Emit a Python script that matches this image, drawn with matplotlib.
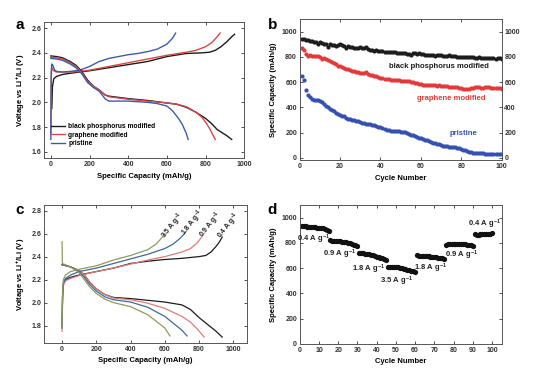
"""Four-panel battery performance figure (a-d)."""
import numpy as np
import matplotlib
matplotlib.use("Agg")
import matplotlib.pyplot as plt

plt.rcParams["font.family"] = ["Liberation Sans", "DejaVu Sans"]
plt.rcParams["mathtext.fontset"] = "custom"
plt.rcParams["mathtext.rm"] = "Liberation Sans:bold"
plt.rcParams["mathtext.default"] = "rm"

# colours
C_BP    = "#1c1c1c"
C_GR    = "#d94848"
C_PR    = "#3b5ea6"
C_09    = "#e07a7a"
C_18    = "#3e6a9a"
C_35    = "#8c9c5c"

# ── panel a: charge/discharge profiles ───────────────────────────────────────
a_bp_chg_x = [5, 8, 15, 30, 60, 100, 150, 200, 300, 400, 500, 600, 700, 780, 820, 850, 880, 910, 935, 950]
a_bp_chg_y = [1.95, 2.12, 2.19, 2.21, 2.225, 2.235, 2.245, 2.255, 2.28, 2.305, 2.33, 2.37, 2.395, 2.40, 2.405, 2.42, 2.45, 2.49, 2.53, 2.55]
a_gr_chg_x = [0, 2, 5, 15, 30, 60, 100, 150, 200, 300, 400, 500, 600, 700, 750, 800, 830, 860, 875]
a_gr_chg_y = [1.75, 2.20, 2.28, 2.255, 2.245, 2.245, 2.245, 2.25, 2.26, 2.29, 2.32, 2.35, 2.38, 2.405, 2.42, 2.45, 2.48, 2.53, 2.56]
a_pr_chg_x = [0, 2, 5, 10, 20, 30, 60, 100, 150, 200, 250, 300, 350, 400, 450, 500, 550, 600, 630, 645]
a_pr_chg_y = [1.70, 2.25, 2.31, 2.30, 2.26, 2.25, 2.245, 2.25, 2.26, 2.29, 2.33, 2.355, 2.37, 2.385, 2.395, 2.41, 2.43, 2.47, 2.52, 2.56]

a_bp_dis_x = [0, 30, 60, 100, 130, 160, 190, 220, 250, 280, 300, 350, 400, 500, 600, 650, 700, 750, 800, 830, 860, 890, 910, 935]
a_bp_dis_y = [2.375, 2.37, 2.36, 2.33, 2.30, 2.25, 2.18, 2.13, 2.10, 2.06, 2.05, 2.04, 2.03, 2.015, 1.995, 1.985, 1.96, 1.92, 1.87, 1.83, 1.78, 1.75, 1.73, 1.70]
a_gr_dis_x = [0, 30, 60, 100, 130, 160, 190, 220, 250, 280, 300, 350, 400, 500, 600, 650, 700, 750, 780, 800, 820, 840, 850]
a_gr_dis_y = [2.365, 2.36, 2.35, 2.32, 2.29, 2.24, 2.17, 2.13, 2.10, 2.06, 2.045, 2.035, 2.025, 2.01, 1.995, 1.985, 1.965, 1.92, 1.88, 1.84, 1.79, 1.73, 1.70]
a_pr_dis_x = [0, 30, 60, 100, 130, 160, 190, 220, 250, 280, 300, 350, 400, 500, 550, 600, 630, 660, 680, 700, 710]
a_pr_dis_y = [2.355, 2.35, 2.34, 2.31, 2.28, 2.23, 2.16, 2.12, 2.09, 2.03, 2.01, 2.01, 2.01, 2.00, 1.99, 1.97, 1.93, 1.87, 1.82, 1.75, 1.70]

# ── panel b: cycling at constant rate ────────────────────────────────────────
b_cycles = list(range(1, 101))
b_bp = [945, 940, 935, 932, 928, 925, 920, 915, 905, 918,
        912, 905, 900, 880, 900, 895, 890, 885, 895, 900,
        890, 885, 870, 885, 880, 875, 872, 868, 870, 875,
        870, 868, 875, 860, 858, 855, 845, 852, 850, 848,
        845, 842, 840, 842, 838, 835, 835, 832, 830, 832,
        830, 828, 826, 825, 815, 830, 828, 826, 830, 822,
        820, 818, 816, 818, 815, 812, 810, 815, 812, 812,
        810, 808, 806, 812, 804, 805, 806, 800, 798, 802,
        800, 798, 796, 795, 796, 798, 794, 792, 795, 790,
        792, 790, 790, 792, 788, 790, 786, 788, 787, 786]
b_gr = [870, 855, 820, 810, 812, 810, 808, 806, 805, 800,
        780, 790, 785, 775, 770, 760, 750, 740, 730, 725,
        720, 715, 705, 700, 695, 690, 685, 680, 678, 676,
        675, 676, 680, 665, 660, 655, 650, 645, 640, 635,
        632, 628, 625, 622, 620, 618, 620, 618, 615, 612,
        612, 610, 608, 605, 602, 598, 595, 590, 585, 582,
        580, 578, 578, 580, 578, 576, 575, 572, 575, 572,
        570, 568, 568, 565, 565, 562, 560, 558, 555, 552,
        548, 545, 545, 548, 552, 555, 558, 560, 558, 556,
        555, 558, 560, 558, 555, 555, 552, 550, 550, 548]
b_pr = [650, 620, 540, 500, 480, 470, 462, 458, 460, 450,
        440, 425, 410, 400, 390, 380, 370, 355, 345, 340,
        335, 330, 320, 310, 305, 300, 298, 295, 290, 285,
        280, 275, 270, 268, 265, 262, 258, 252, 248, 245,
        240, 232, 225, 218, 212, 210, 210, 212, 210, 208,
        205, 202, 198, 190, 182, 178, 172, 165, 160, 155,
        150, 145, 140, 135, 128, 122, 118, 112, 108, 102,
        98, 95, 92, 90, 88, 86, 84, 80, 76, 72,
        66, 60, 55, 50, 46, 42, 40, 38, 37, 36,
        36, 35, 35, 34, 34, 34, 33, 33, 34, 35]

# ── panel c: profiles at different rates ────────────────────────────────────
c_rates = ["0.4", "0.9", "1.8", "3.5"]
c_chg_x = {
    "0.4": [0, 3, 8, 20, 50, 100, 200, 300, 400, 500, 600, 700, 800, 840, 870, 900, 920, 935],
    "0.9": [0, 3, 8, 20, 50, 100, 200, 300, 400, 500, 600, 700, 750, 790, 820],
    "1.8": [0, 3, 8, 20, 50, 100, 200, 300, 400, 500, 600, 650, 690, 715],
    "3.5": [0, 3, 8, 20, 50, 100, 200, 300, 400, 500, 550, 580, 600],
}
c_chg_y = {
    "0.4": [1.80, 2.05, 2.17, 2.20, 2.22, 2.24, 2.27, 2.30, 2.34, 2.36, 2.375, 2.385, 2.40, 2.41, 2.44, 2.49, 2.53, 2.57],
    "0.9": [1.75, 2.00, 2.15, 2.19, 2.21, 2.235, 2.27, 2.30, 2.335, 2.37, 2.40, 2.44, 2.47, 2.52, 2.58],
    "1.8": [1.78, 2.05, 2.17, 2.21, 2.24, 2.27, 2.30, 2.34, 2.38, 2.42, 2.47, 2.51, 2.56, 2.60],
    "3.5": [1.78, 2.10, 2.20, 2.24, 2.27, 2.29, 2.32, 2.37, 2.41, 2.46, 2.51, 2.56, 2.60],
}
c_dis_x = {
    "0.4": [0, 50, 100, 130, 160, 200, 250, 300, 400, 500, 600, 700, 750, 800, 850, 900, 935],
    "0.9": [0, 50, 100, 130, 160, 200, 250, 300, 400, 500, 600, 700, 750, 790, 830],
    "1.8": [0, 50, 100, 130, 160, 200, 250, 300, 400, 500, 600, 700, 730],
    "3.5": [0, 2, 50, 100, 130, 160, 200, 250, 300, 400, 500, 600, 630],
}
c_dis_y = {
    "0.4": [2.33, 2.31, 2.28, 2.24, 2.18, 2.12, 2.07, 2.045, 2.035, 2.02, 2.005, 1.98, 1.94, 1.87, 1.81, 1.75, 1.70],
    "0.9": [2.33, 2.31, 2.28, 2.24, 2.18, 2.12, 2.07, 2.04, 2.025, 1.995, 1.95, 1.88, 1.83, 1.77, 1.70],
    "1.8": [2.33, 2.31, 2.27, 2.22, 2.16, 2.10, 2.05, 2.025, 2.005, 1.96, 1.88, 1.76, 1.71],
    "3.5": [2.53, 2.34, 2.31, 2.26, 2.20, 2.14, 2.08, 2.03, 2.00, 1.965, 1.895, 1.78, 1.71],
}
c_colors = {"0.4": C_BP, "0.9": C_09, "1.8": C_18, "3.5": C_35}

# ── panel d: rate capability ────────────────────────────────────────────────
d_cycles = list(range(1, 101))
d_cap = [935, 932, 930, 928, 926, 925, 924, 922, 920, 920, 918, 915, 910, 900, 890,
         820, 818, 816, 815, 813, 812, 810, 808, 805, 800, 795, 790, 785, 780, 772,
         720, 718, 716, 714, 712, 708, 704, 700, 695, 690, 686, 682, 678, 674, 668,
         612, 610, 609, 608, 607, 605, 603, 600, 596, 592, 588, 584, 580, 576, 568,
         700, 699, 698, 697, 696, 694, 692, 690, 688, 686, 684, 682, 680, 676, 670,
         785, 788, 789, 790, 790, 790, 791, 790, 790, 789, 788, 786, 784, 780, 772,
         866, 864, 865, 868, 870, 871, 872, 872, 873, 874]
d_labels = ["0.4", "0.9", "1.8", "3.5", "1.8", "0.9", "0.4"]

# ── helpers ─────────────────────────────────────────────────────────────────
FS_TICK = 5
FS_LAB = 5.5

def style(ax):
    for s in ax.spines.values():
        s.set_linewidth(0.7)
        s.set_color("#555555")
    ax.tick_params(direction="in", length=2, width=0.6, labelsize=FS_TICK,
                   top=True, right=True, pad=2, colors="#333333")
    for t in ax.get_xticklabels() + ax.get_yticklabels():
        t.set_fontweight("bold")

def panel_letter(fig, x, y, s):
    fig.text(x, y, s, fontsize=11, fontweight="bold", ha="left", va="center")

fig = plt.figure(figsize=(5.44, 3.78), dpi=100)

# ── a ───────────────────────────────────────────────────────────────────────
ax = fig.add_axes([0.081, 0.582, 0.368, 0.360])
ax.plot(a_bp_chg_x, a_bp_chg_y, color=C_BP, lw=1.0)
ax.plot(a_gr_chg_x, a_gr_chg_y, color=C_GR, lw=1.0)
ax.plot(a_pr_chg_x, a_pr_chg_y, color=C_PR, lw=1.0)
ax.plot(a_bp_dis_x, a_bp_dis_y, color=C_BP, lw=1.0, label="black phosphorus modified")
ax.plot(a_gr_dis_x, a_gr_dis_y, color=C_GR, lw=1.0, label="graphene modified")
ax.plot(a_pr_dis_x, a_pr_dis_y, color=C_PR, lw=1.0, label="pristine")
ax.set_xlim(-35, 1000)
ax.set_ylim(1.55, 2.65)
ax.set_xticks(np.arange(0, 1001, 200))
ax.set_yticks(np.arange(1.6, 2.61, 0.2))
ax.set_xlabel("Specific Capacity (mAh/g)", fontsize=FS_LAB, fontweight="bold", labelpad=4)
ax.set_ylabel("Voltage vs Li$^{+}$/Li (V)", fontsize=FS_LAB, fontweight="bold", labelpad=3)
leg = ax.legend(loc="lower left", bbox_to_anchor=(0.02, 0.06), frameon=False,
                prop={"size": 4.8, "weight": "bold"}, handlelength=2.2,
                labelspacing=0.25, handletextpad=0.4, borderaxespad=0)
style(ax)
panel_letter(fig, 0.028, 0.935, "a")

# ── b ───────────────────────────────────────────────────────────────────────
ax = fig.add_axes([0.551, 0.577, 0.371, 0.373])
ax.plot(b_cycles, b_bp, "o", color=C_BP, ms=3.0, mew=0)
ax.plot(b_cycles, b_gr, "o", color="#e23a3a", ms=3.0, mew=0)
ax.plot(b_cycles, b_pr, "o", color="#3450b0", ms=3.0, mew=0)
ax.set_xlim(0, 100)
ax.set_ylim(-15, 1100)
ax.set_xticks(np.arange(0, 101, 20))
ax.set_yticks(np.arange(0, 1001, 200))
ax.set_xlabel("Cycle Number", fontsize=FS_LAB, fontweight="bold", labelpad=4)
ax.set_ylabel("Specific Capacity (mAh/g)", fontsize=FS_LAB, fontweight="bold", labelpad=3)
ax.text(69, 725, "black phosphorus modified", fontsize=5.5, fontweight="bold",
        color=C_BP, ha="center", va="center")
ax.text(75, 468, "graphene modified", fontsize=5.5, fontweight="bold",
        color="#e23a3a", ha="center", va="center")
ax.text(81, 190, "pristine", fontsize=5.5, fontweight="bold",
        color="#3450b0", ha="center", va="center")
style(ax)
ax.tick_params(labelright=True)
for t in ax.get_yticklabels():
    t.set_fontweight("bold")
panel_letter(fig, 0.492, 0.935, "b")

# ── c ───────────────────────────────────────────────────────────────────────
ax = fig.add_axes([0.081, 0.093, 0.373, 0.365])
for r in c_rates:
    ax.plot(c_chg_x[r], c_chg_y[r], color=c_colors[r], lw=0.9)
    ax.plot(c_dis_x[r], c_dis_y[r], color=c_colors[r], lw=0.9)
for r, (lx, ly) in zip(c_rates, [(975, 2.67), (870, 2.68), (763, 2.69), (650, 2.67)]):
    ax.text(lx, ly, f"{r} A g$^{{-1}}$", fontsize=5, fontweight="bold",
            rotation=52, ha="center", va="center", color="#222222")
ax.set_xlim(-105, 1080)
ax.set_ylim(1.65, 2.85)
ax.set_xticks(np.arange(0, 1001, 200))
ax.set_yticks(np.arange(1.8, 2.81, 0.2))
ax.set_xlabel("Specific Capacity (mAh/g)", fontsize=FS_LAB, fontweight="bold", labelpad=3)
ax.set_ylabel("Voltage vs Li$^{+}$/Li (V)", fontsize=FS_LAB, fontweight="bold", labelpad=3)
style(ax)
panel_letter(fig, 0.028, 0.445, "c")

# ── d ───────────────────────────────────────────────────────────────────────
ax = fig.add_axes([0.551, 0.090, 0.371, 0.368])
ax.plot(d_cycles, d_cap, "o", color="#111111", ms=3.8, mew=0)
for lab, (lx, ly) in zip(d_labels, [(7, 825), (20.5, 706), (36, 587), (50.5, 494),
                                    (68, 595), (84, 700), (96, 944)]):
    ax.text(lx, ly, f"{lab} A g$^{{-1}}$", fontsize=5.5, fontweight="bold",
            ha="center", va="center", color="#222222")
ax.set_xlim(0, 105)
ax.set_ylim(0, 1100)
ax.set_xticks(np.arange(0, 101, 10))
ax.set_yticks(np.arange(0, 1001, 200))
ax.set_xlabel("Cycle Number", fontsize=FS_LAB, fontweight="bold", labelpad=3)
ax.set_ylabel("Specific Capacity (mAh/g)", fontsize=FS_LAB, fontweight="bold", labelpad=3)
style(ax)
panel_letter(fig, 0.492, 0.445, "d")

fig.savefig("out.png", dpi=100)
